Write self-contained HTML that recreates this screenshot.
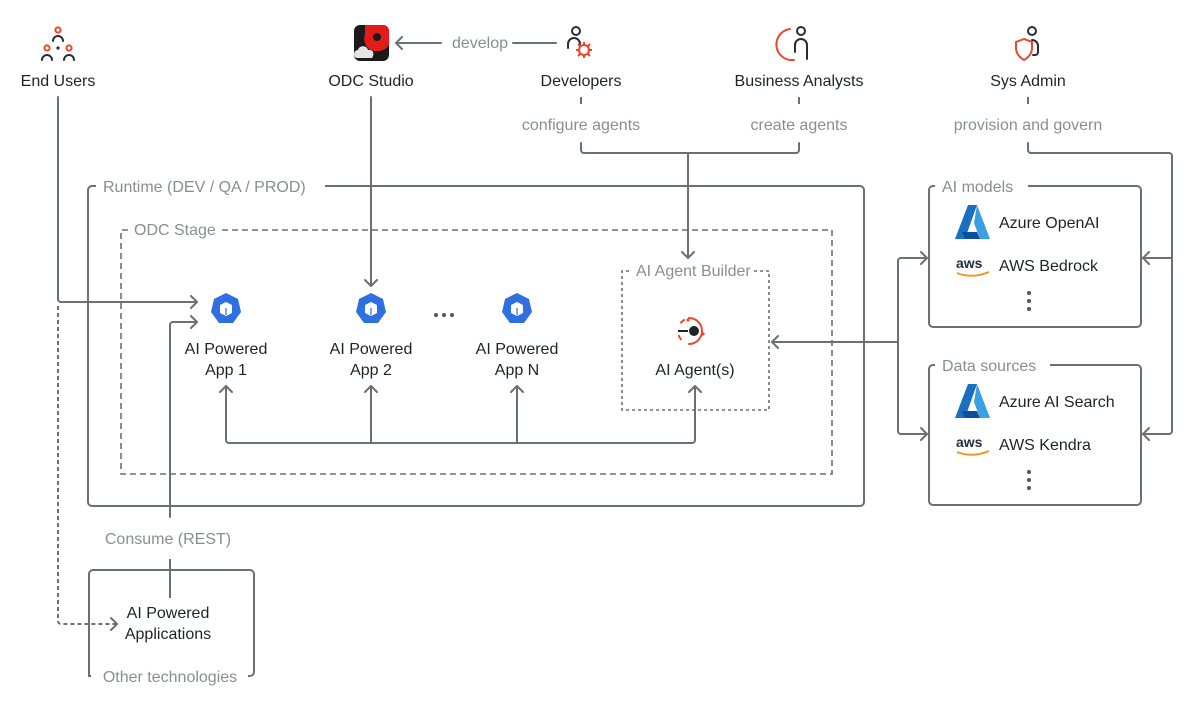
<!DOCTYPE html>
<html><head><meta charset="utf-8"><style>
html,body{margin:0;padding:0;background:#fff;}
svg{display:block;font-family:"Liberation Sans",sans-serif;}
.t{fill:#1f2328;font-size:16px;text-anchor:middle;}
.g{fill:#8a8d92;font-size:16px;}
.l{fill:none;stroke:#6b6f76;stroke-width:2;}
.a{fill:none;stroke:#6b6f76;stroke-width:2;stroke-linecap:round;stroke-linejoin:round;}
.ic{fill:none;stroke:#2a2d33;stroke-width:2;stroke-linecap:round;}
.or{fill:none;stroke:#f0452b;stroke-width:2;stroke-linecap:round;}
</style></head><body>
<svg width="1200" height="707" viewBox="0 0 1200 707">
<rect width="1200" height="707" fill="#fff"/>

<!-- End Users icon -->
<g>
 <circle cx="58" cy="30" r="2.6" class="or"/>
 <path d="M53 41a5 5 0 0 1 10 0" class="ic"/>
 <circle cx="47" cy="48" r="2.6" class="or"/>
 <circle cx="69" cy="48" r="2.6" class="or"/>
 <circle cx="58" cy="48" r="1.6" fill="#2a2d33"/>
 <path d="M42 60a5 5 0 0 1 10 0M64 60a5 5 0 0 1 10 0" class="ic"/>
</g>
<text x="58" y="86" class="t">End Users</text>

<!-- ODC Studio icon -->
<rect x="354" y="25" width="35" height="36" rx="6" fill="#1b1b1b"/>
<path d="M365 25h18a6 6 0 0 1 6 6v14c-4 6-12 8-18 5-6-3-8-10-6-17z" fill="#e31b1b"/>
<circle cx="377" cy="37" r="4" fill="#1b1b1b"/>
<path d="M357 58c-4 0-4-8 1-8 1-5 9-5 10 0 5-1 7 4 4 8z" fill="#e5e5e5"/>
<text x="371" y="86" class="t">ODC Studio</text>

<!-- develop -->
<path d="M396 43H441M513 43H556" class="a"/>
<path d="M402 37l-6 6 6 6" class="a"/>
<text x="480" y="48" class="g" text-anchor="middle">develop</text>

<!-- Developers icon -->
<circle cx="576" cy="31" r="4" class="ic"/>
<path d="M568 48v-4a6 6 0 0 1 12 0" class="ic"/>
<circle cx="584" cy="50" r="5" class="or"/>
<g stroke="#f0452b" stroke-width="2"><path d="M584 42v3M584 55v3M576 50h3M589 50h3M578 44l2 2M588 54l2 2M590 44l-2 2M580 54l-2 2"/></g>
<text x="581" y="86" class="t">Developers</text>

<!-- Business Analysts icon -->
<path d="M790 29a14 14 0 0 0 4 31" class="or"/>
<circle cx="801" cy="31" r="4" class="ic"/>
<path d="M795 52v-7a6 6 0 0 1 12 0v14" class="ic"/>
<text x="799" y="86" class="t">Business Analysts</text>

<!-- Sys Admin icon -->
<circle cx="1032" cy="31" r="4" class="ic"/>
<path d="M1032 40a6 6 0 0 1 6 6v6a3 3 0 0 1-3 3h-2" class="ic"/>
<path d="M1024 39l-8 3v6c0 5 3 9 8 12 5-3 8-7 8-12v-6z" class="or"/>
<text x="1028" y="86" class="t">Sys Admin</text>

<!-- role labels -->
<path d="M581 97v7M799 97v7M1028 97v7" class="l"/>
<text x="581" y="130" class="g" text-anchor="middle">configure agents</text>
<text x="799" y="130" class="g" text-anchor="middle">create agents</text>
<text x="1028" y="130" class="g" text-anchor="middle">provision and govern</text>
<path d="M581 143v7a3 3 0 0 0 3 3H796a3 3 0 0 0 3-3v-7" class="a"/>
<path d="M688 153V258" class="a"/>
<path d="M682 252l6 6 6-6" class="a"/>
<path d="M1028 143v7a3 3 0 0 0 3 3H1169a3 3 0 0 1 3 3V431a3 3 0 0 1-3 3H1143M1172 258H1143" class="a"/>
<path d="M1149 252l-6 6 6 6M1149 428l-6 6 6 6" class="a"/>

<!-- Runtime box -->
<path d="M96 186h-4a4 4 0 0 0-4 4V502a4 4 0 0 0 4 4H860a4 4 0 0 0 4-4V190a4 4 0 0 0-4-4H325" class="l"/>
<text x="103" y="192" class="g" font-size="17">Runtime (DEV / QA / PROD)</text>

<!-- ODC Stage -->
<path d="M128 230h-7V474H832V230H218" fill="none" stroke="#6b6f76" stroke-width="1.6" stroke-dasharray="6 4"/>
<text x="134" y="235" class="g" font-size="14.5">ODC Stage</text>

<!-- AI Agent Builder -->
<path d="M629 271h-7V410H769V271H753" fill="none" stroke="#6b6f76" stroke-width="1.6" stroke-dasharray="3 3"/>
<text x="636" y="276" class="g" font-size="14.5">AI Agent Builder</text>

<!-- End users lines -->
<path d="M58 97V299a3 3 0 0 0 3 3H197" class="a"/>
<path d="M191 296l6 6-6 6" class="a"/>
<path d="M58 306V621a3 3 0 0 0 3 3H117" fill="none" stroke="#6b6f76" stroke-width="2" stroke-dasharray="4 3"/>
<path d="M111 618l6 6-6 6" class="a"/>
<!-- consume line -->
<path d="M170 517V325a3 3 0 0 1 3-3H197" class="a"/>
<path d="M191 316l6 6-6 6" class="a"/>
<text x="168" y="544" class="g" font-size="15.5" text-anchor="middle">Consume (REST)</text>
<path d="M170 559V598" class="l"/>

<!-- ODC studio down -->
<path d="M371 97V286" class="a"/>
<path d="M365 280l6 6 6-6" class="a"/>

<!-- app icons -->
<g id="k">
<polygon points="226,293 238,299 241,312 233,323 219,323 211,312 214,299" fill="#2f6fe0"/>
<path d="M220 305l6-3 6 3v8l-6 3-6-3z" fill="#fff"/>
<path d="M226 308v7" stroke="#2f6fe0" stroke-width="1.2"/>
</g>
<use href="#k" x="145"/>
<use href="#k" x="291"/>
<text x="226" y="354" class="t">AI Powered</text><text x="226" y="375" class="t">App 1</text>
<text x="371" y="354" class="t">AI Powered</text><text x="371" y="375" class="t">App 2</text>
<text x="517" y="354" class="t">AI Powered</text><text x="517" y="375" class="t">App N</text>
<circle cx="436" cy="315" r="2" fill="#555"/><circle cx="444" cy="315" r="2" fill="#555"/><circle cx="452" cy="315" r="2" fill="#555"/>

<!-- agent icon -->
<path d="M689 318a13 13 0 1 1 0 26" class="or"/>
<path d="M684 320a13 13 0 0 0 0 22" class="or" stroke-dasharray="4 14"/>
<circle cx="688" cy="320" r="1.6" fill="#f0452b"/><circle cx="703" cy="334" r="1.6" fill="#f0452b"/>
<path d="M678 331h10" stroke="#1f2328" stroke-width="2"/>
<circle cx="694" cy="331" r="5" fill="#1f2328"/>
<text x="695" y="375" class="t">AI Agent(s)</text>

<!-- bottom connector -->
<path d="M226 386V440a3 3 0 0 0 3 3H692a3 3 0 0 0 3-3V386M371 386V443M517 386V443" class="a"/>
<path d="M220 392l6-6 6 6M365 392l6-6 6 6M511 392l6-6 6 6M689 392l6-6 6 6" class="a"/>

<!-- right connector -->
<path d="M772 342H898M898 261v170M898 261a3 3 0 0 1 3-3H927M898 431a3 3 0 0 0 3 3H927" class="a"/>
<path d="M778 336l-6 6 6 6M921 252l6 6-6 6M921 428l6 6-6 6" class="a"/>

<!-- AI models -->
<path d="M935 186h-2a4 4 0 0 0-4 4V323a4 4 0 0 0 4 4H1137a4 4 0 0 0 4-4V190a4 4 0 0 0-4-4H1028" class="l"/>
<text x="942" y="192" class="g" font-size="17">AI models</text>
<g id="az">
<path d="M968 205h9l-12 34h-10z" fill="#1a6fc2"/>
<path d="M977 205l13 34h-10l-6-16z" fill="#3aa0e6"/>
<path d="M962 232h15l3 7h-15z" fill="#0f4f9a"/>
</g>
<text x="999" y="228" class="t" style="text-anchor:start">Azure OpenAI</text>
<g id="aws">
<text x="956" y="268" font-size="14" fill="#232f3e" font-weight="bold" font-family="Liberation Sans,sans-serif">aws</text>
<path d="M957 273q15 6 32-1" stroke="#f7931e" stroke-width="2" fill="none"/>
</g>
<text x="999" y="271" class="t" style="text-anchor:start">AWS Bedrock</text>
<circle cx="1029" cy="293" r="2" fill="#555"/><circle cx="1029" cy="301" r="2" fill="#555"/><circle cx="1029" cy="309" r="2" fill="#555"/>

<!-- Data sources -->
<path d="M935 365h-2a4 4 0 0 0-4 4V501a4 4 0 0 0 4 4H1137a4 4 0 0 0 4-4V369a4 4 0 0 0-4-4H1050" class="l"/>
<text x="942" y="371" class="g" font-size="17">Data sources</text>
<use href="#az" y="179"/>
<text x="999" y="407" class="t" style="text-anchor:start">Azure AI Search</text>
<use href="#aws" y="179"/>
<text x="999" y="450" class="t" style="text-anchor:start">AWS Kendra</text>
<circle cx="1029" cy="472" r="2" fill="#555"/><circle cx="1029" cy="480" r="2" fill="#555"/><circle cx="1029" cy="488" r="2" fill="#555"/>

<!-- Other technologies -->
<path d="M91 676h-2V574a4 4 0 0 1 4-4H250a4 4 0 0 1 4 4V672a4 4 0 0 1-4 4h-2" class="l"/>
<text x="170" y="682" class="g" font-size="18" text-anchor="middle">Other technologies</text>
<text x="168" y="618" class="t">AI Powered</text>
<text x="168" y="639" class="t">Applications</text>
</svg>
</body></html>
